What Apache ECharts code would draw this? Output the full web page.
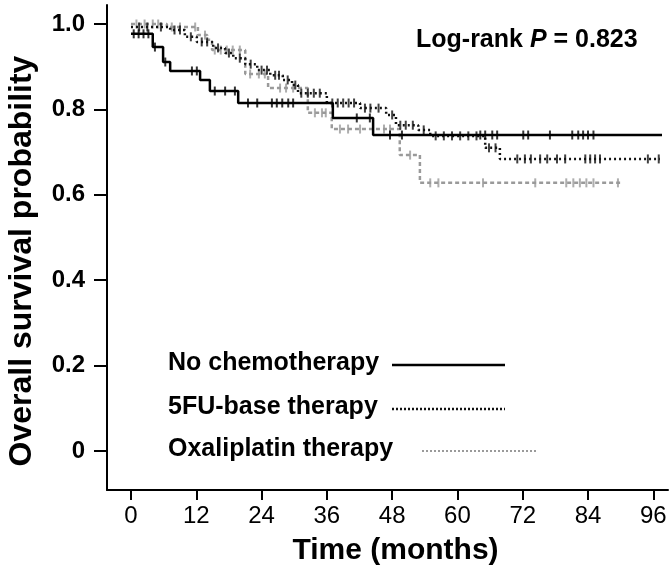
<!DOCTYPE html>
<html>
<head>
<meta charset="utf-8">
<script src="https://cdn.jsdelivr.net/npm/echarts@6/dist/echarts.min.js"></script>
<style>
html,body{margin:0;padding:0;background:#fff;}
#chart{width:671px;height:572px;}
</style>
</head>
<body>
<div id="chart"></div>
<script>
const seriesNames = ['No chemotherapy', '5FU-base therapy', 'Oxaliplatin therapy'];
const timeTicks = [0, 12, 24, 36, 48, 60, 72, 84, 96];
const survTicks = [0, 0.2, 0.4, 0.6, 0.8, 1.0];
const survTickLabels = ['0', '0.2', '0.4', '0.6', '0.8', '1.0'];

// No chemotherapy
const noChemoTime = [0, 4.0, 5.9, 7.2, 12.7, 14.5, 19.7, 37.1, 44.5, 97.6];
const noChemoSurv = [0.977, 0.946, 0.911, 0.890, 0.869, 0.843, 0.815, 0.780, 0.740, 0.740];
const noChemoCensor = [0.5, 1.4, 2.3, 3.2, 4.4, 6.3, 11.2, 12.1, 15.4, 17.3, 19.1, 21.5, 23.2, 25.9, 26.8, 27.8, 28.9, 29.8, 41.5, 43.9, 47.6, 49.8, 64.2, 65.1, 66.4, 67.3, 72.1, 73, 77, 81.1, 82.2, 83.1, 84, 85];

// 5FU-base therapy
const fuTime = [0, 7.2, 9.9, 12.1, 15.1, 17.3, 18.8, 21.0, 23.2, 25.6, 27.9, 29.6, 30.7, 36.0, 42.1, 46.9, 48.7, 52.8, 55.0, 65.1, 67.8, 97.2];
const fuSurv = [0.993, 0.986, 0.970, 0.958, 0.944, 0.932, 0.920, 0.906, 0.892, 0.880, 0.869, 0.857, 0.838, 0.815, 0.803, 0.787, 0.763, 0.752, 0.738, 0.710, 0.684, 0.684];
const fuCensor = [1.5, 3, 5.5, 8, 9, 11, 13, 14, 16, 18, 20, 22, 24, 25, 26.5, 27.2, 28.8, 30.2, 31.3, 32.5, 33.6, 34.7, 37, 38, 39, 40, 41, 43, 44, 45.5, 48, 49.5, 50.5, 51.8, 53.8, 56, 57.5, 59, 60.5, 62, 63.5, 65.8, 67, 71, 72.4, 73.5, 75.2, 76.5, 78.3, 79.8, 83.5, 84.4, 85.3, 86.2, 95, 97];

// Oxaliplatin therapy
const oxTime = [0, 6.6, 12.3, 14.0, 14.9, 21.0, 25.2, 32.5, 36.9, 49.4, 53.1, 89.9];
const oxSurv = [1.0, 0.993, 0.974, 0.963, 0.939, 0.883, 0.850, 0.792, 0.754, 0.693, 0.628, 0.628];
const oxCensor = [1, 2.5, 4, 5, 7.5, 9, 11.8, 13.6, 15.4, 16.5, 17.6, 18.7, 20, 21.9, 23.5, 24.6, 27.4, 28.5, 29.8, 33.8, 35.1, 35.8, 38.4, 39.9, 42.1, 46.5, 47.6, 51.3, 55, 56.5, 64.7, 74.3, 80, 81.3, 82.5, 83.7, 85, 89.5];

const FONT = '"Liberation Sans", Arial, Helvetica, sans-serif';

function zip(t, s) { return t.map((v, i) => [v, s[i]]); }
function survAt(times, surv, t) {
  let s = surv[0];
  for (let i = 0; i < times.length; i++) { if (times[i] <= t) s = surv[i]; }
  return s;
}
function censorData(c, times, surv) { return c.map(t => [t, survAt(times, surv, t)]); }

const groups = [
  { name: seriesNames[2], time: oxTime, surv: oxSurv, censor: oxCensor, color: '#9a9a9a', dash: [4, 3], z: 2 },
  { name: seriesNames[1], time: fuTime, surv: fuSurv, censor: fuCensor, color: '#111111', dash: [2, 3], z: 3 },
  { name: seriesNames[0], time: noChemoTime, surv: noChemoSurv, censor: noChemoCensor, color: '#000000', dash: 'solid', z: 4 }
];

const series = [];
groups.forEach(g => {
  series.push({
    name: g.name, type: 'line', step: 'end', showSymbol: false, symbol: 'none',
    data: zip(g.time, g.surv), z: g.z,
    lineStyle: { color: g.color, width: 2.5, type: g.dash }, silent: true
  });
  series.push({
    name: g.name + ' censored', type: 'scatter', symbol: 'rect', symbolSize: [2, 9],
    data: censorData(g.censor, g.time, g.surv), z: g.z,
    itemStyle: { color: g.color }, silent: true
  });
});

// Legend drawn as graphics (text left, line sample right)
const legendRows = [
  { y: 365, x1: 392, x2: 505, color: '#000', dash: null, width: 2.5 },
  { y: 409, x1: 392, x2: 505, color: '#111', dash: [2, 2], width: 2.5 },
  { y: 451, x1: 422, x2: 536, color: '#9a9a9a', dash: [2, 2], width: 2 }
];
const graphics = [];
legendRows.forEach((r, i) => {
  graphics.push({
    type: 'text', left: 168, top: r.y - 14, silent: true,
    style: { text: seriesNames[i], font: 'bold 25px ' + FONT, fill: '#000', textVerticalAlign: 'top' }
  });
  graphics.push({
    type: 'line', silent: true,
    shape: { x1: r.x1, y1: r.y, x2: r.x2, y2: r.y },
    style: { stroke: r.color, lineWidth: r.width, lineDash: r.dash }
  });
});
graphics.push({
  type: 'text', x: 22, y: 261, rotation: Math.PI / 2, silent: true,
  style: { text: 'Overall survival probability', font: 'bold 32px ' + FONT, fill: '#000', align: 'center', verticalAlign: 'middle' }
});
graphics.push({
  type: 'text', x: 416, y: 40, silent: true,
  style: {
    text: '{a|Log-rank }{b|P}{a| = 0.823}',
    verticalAlign: 'middle',
    rich: {
      a: { font: 'bold 25px ' + FONT, fill: '#000' },
      b: { font: 'italic bold 25px ' + FONT, fill: '#000' }
    }
  }
});

const chart = echarts.init(document.getElementById('chart'), null, { renderer: 'canvas' });
chart.setOption({
  animation: false,
  backgroundColor: '#fff',
  grid: { left: 107, right: 3, top: 5, bottom: 82, containLabel: false, outerBoundsMode: 'none' },
  xAxis: {
    type: 'value', min: -4.41, max: 98.7,
    axisLine: { show: true, onZero: false, lineStyle: { color: '#000', width: 2 } },
    axisTick: { show: true, customValues: timeTicks, length: 10, inside: false, lineStyle: { color: '#000', width: 2 } },
    axisLabel: { customValues: timeTicks, fontSize: 24, color: '#000', margin: 14, fontFamily: FONT },
    splitLine: { show: false },
    name: 'Time (months)', nameLocation: 'middle', nameGap: 46,
    nameTextStyle: { fontSize: 30, fontWeight: 'bold', color: '#000', fontFamily: FONT, padding: [0, 0, 0, 16] }
  },
  yAxis: {
    type: 'value', min: -0.0913, max: 1.0445,
    axisLine: { show: true, onZero: false, lineStyle: { color: '#000', width: 2 } },
    axisTick: { show: true, customValues: survTicks, length: 13, inside: false, lineStyle: { color: '#000', width: 2 } },
    axisLabel: {
      customValues: survTicks, fontSize: 24, fontWeight: 'bold', color: '#000', margin: 22, fontFamily: FONT,
      formatter: v => { const i = survTicks.findIndex(s => Math.abs(s - v) < 1e-6); return i >= 0 ? survTickLabels[i] : ''; }
    },
    splitLine: { show: false }
  },
  graphic: graphics,
  series: series
});
</script>
</body>
</html>
